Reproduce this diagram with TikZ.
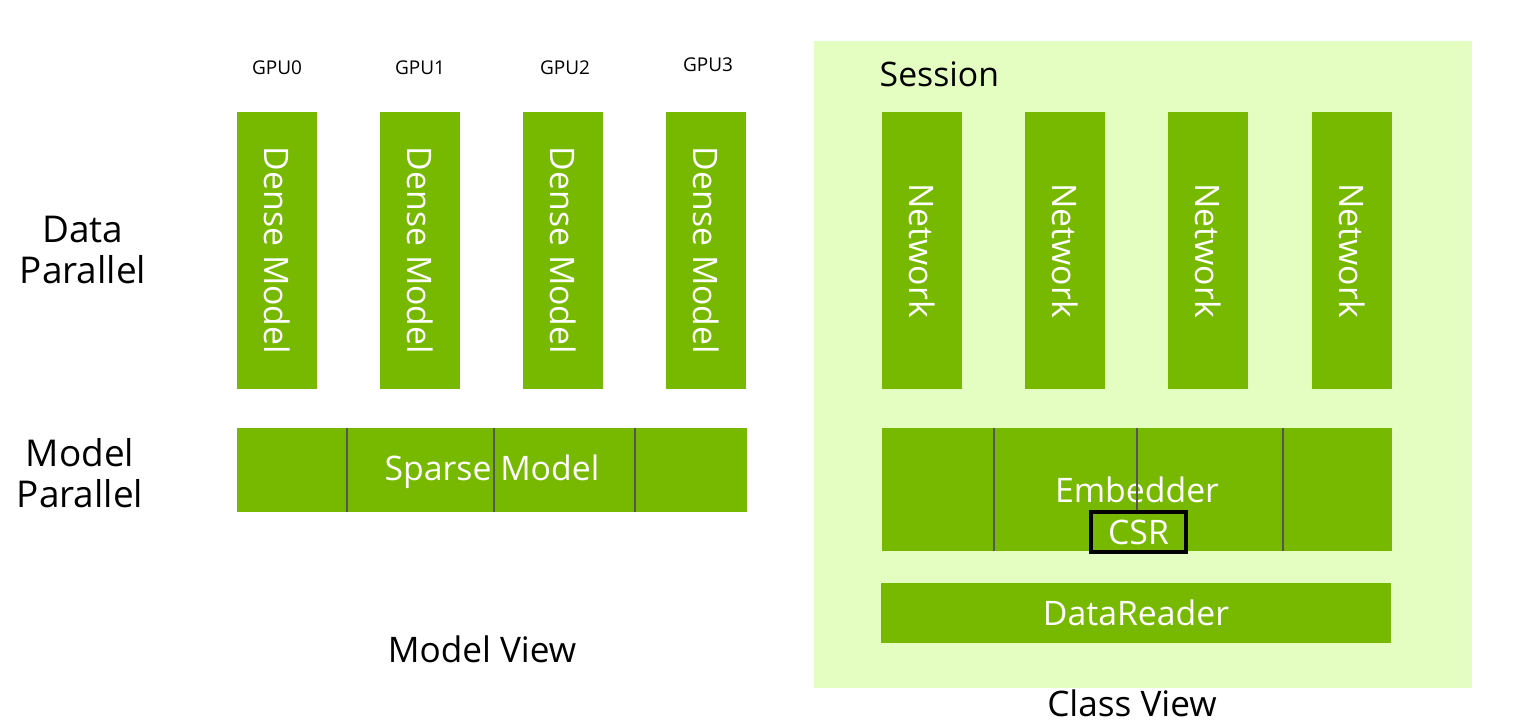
\documentclass[tikz,border=0pt]{standalone}
\usepackage{fontspec}
\setmainfont{Open Sans}
\usepackage{tikz}
\usetikzlibrary{positioning}
\definecolor{nvgreen}{RGB}{118,185,0}
\definecolor{sessionbg}{RGB}{228,253,192}
\definecolor{divgray}{RGB}{85,85,85}

\tikzset{
  bar/.style={fill=nvgreen,text=white,inner sep=0pt,
    font=\fontsize{9.6}{11}\selectfont},
  vbar/.style={bar,rotate=-90,minimum width=2.77cm,minimum height=0.8cm},
  wbar/.style={bar,minimum width=5.1cm},
  gpulabel/.style={font=\fontsize{5.4}{6.5}\selectfont},
  sidelabel/.style={align=center,font=\fontsize{10.5}{11.5}\selectfont},
  viewlabel/.style={font=\fontsize{10}{12}\selectfont},
  divider/.style={divgray,line width=0.5pt}
}

\begin{document}
\begin{tikzpicture}[x=0.01cm,y=-0.01cm]
  \useasboundingbox (0,0) rectangle (1528,724);
  % session background
  \fill[sessionbg] (814,41) rectangle (1472,688);
  \node[anchor=west,inner sep=0pt,font=\fontsize{9.6}{11}\selectfont] (session) at (879,74) {Session};

  % model view
  \foreach \i/\x/\y in {0/277/68,1/420/68,2/565/68,3/708/65} {
    \node[gpulabel] (gpu\i) at (\x,\y) {GPU\i};
  }
  \foreach \i/\x in {0/277,1/420,2/563,3/706}
    \node[vbar] (dense\i) at (\x,250.5) {Dense Model};
  \node[wbar,minimum height=0.84cm,text depth=0.3ex] (sparse) at (492,470) {Sparse Model};
  \foreach \x in {347,494,635}
    \draw[divider] (\x,428) -- (\x,512);
  \node[sidelabel] (dp) at (83,250) {Data\\Parallel};
  \node[sidelabel] (mp) at (80,473) {Model\\Parallel};
  \node[viewlabel] (mview) at (482,649) {Model View};

  % class view
  \foreach \i/\x in {0/922,1/1065,2/1208,3/1352}
    \node[vbar] (net\i) at (\x,250.5) {Network};
  \node[wbar,minimum height=1.23cm] (embed) at (1137,489.5) {Embedder};
  \foreach \x in {994,1283}
    \draw[divider] (\x,428) -- (\x,551);
  \node[bar,draw=black,line width=1.2pt,minimum width=0.95cm,minimum height=0.4cm]
    (csr) at (1138.5,532) {CSR};
  \draw[divider] (1137,428) -- (csr.north -| 1137,0);
  \node[wbar,minimum height=0.6cm] (reader) at (1136,613) {DataReader};
  \node[viewlabel] (cview) at (1132,703) {Class View};
\end{tikzpicture}
\end{document}
